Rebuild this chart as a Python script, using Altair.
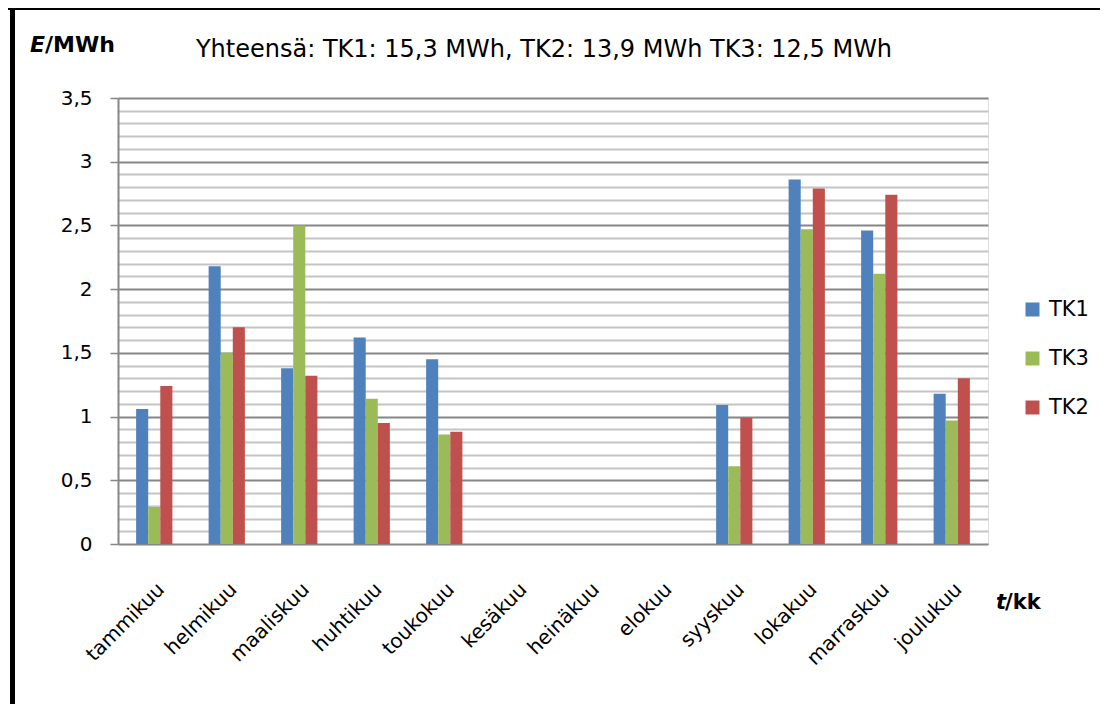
import altair as alt
import pandas as pd

months = ["tammikuu", "helmikuu", "maaliskuu", "huhtikuu", "toukokuu", "kesäkuu",
          "heinäkuu", "elokuu", "syyskuu", "lokakuu", "marraskuu", "joulukuu"]
series_order = ["TK1", "TK3", "TK2"]
tk1 = [1.06, 2.18, 1.38, 1.62, 1.45, 0, 0, 0, 1.09, 2.86, 2.46, 1.18]
tk3 = [0.29, 1.50, 2.50, 1.14, 0.86, 0, 0, 0, 0.61, 2.47, 2.12, 0.97]
tk2 = [1.24, 1.70, 1.32, 0.95, 0.88, 0, 0, 0, 0.99, 2.79, 2.74, 1.30]
colors = ["#4F81BD", "#9BBB59", "#C0504D"]
title_text = "Yhteensä: TK1: 15,3 MWh, TK2: 13,9 MWh TK3: 12,5 MWh"
grid_values = [round(i * 0.1, 1) for i in range(36)]

rows = []
for name, vals in zip(["TK1", "TK3", "TK2"], [tk1, tk3, tk2]):
    for m, v in zip(months, vals):
        rows.append({"month": m, "series": name, "value": v})
df = pd.DataFrame(rows)

FONT = "DejaVu Sans"
W, H = 870, 446

major = "round(datum.value*10) % 5 == 0"

bars = alt.Chart(df).mark_bar().encode(
    x=alt.X("month:N", sort=months, title=None,
            scale=alt.Scale(paddingInner=0.5, paddingOuter=0.25),
            axis=alt.Axis(labelAngle=-45, labelFontSize=20, labelFont=FONT,
                          labelColor="black", ticks=False, domain=False,
                          labelBaseline="top", labelAlign="right",
                          labelPadding=35)),
    xOffset=alt.XOffset("series:N", sort=series_order),
    y=alt.Y("value:Q", title=None,
            scale=alt.Scale(domain=[0, 3.5], nice=False),
            axis=alt.Axis(values=grid_values,
                          labelExpr=f"{major} ? replace(toString(datum.value), '.', ',') : ''",
                          labelFontSize=20, labelFont=FONT, labelColor="black",
                          labelPadding=18,
                          tickSize=8, tickColor="#868686", tickWidth=1.5,
                          tickOpacity={"condition": {"test": major, "value": 1}, "value": 0},
                          domainColor="#868686", domainWidth=2,
                          grid=True,
                          gridColor={"condition": {"test": major, "value": "#868686"}, "value": "#c4c4c4"},
                          gridWidth=1.8)),
    color=alt.Color("series:N", sort=series_order,
                    scale=alt.Scale(domain=series_order, range=colors),
                    legend=alt.Legend(title=None, orient="none", legendX=904, legendY=201,
                                      symbolType="square", symbolSize=196,
                                      symbolStrokeWidth=0,
                                      labelFontSize=21, labelFont=FONT, labelColor="black",
                                      rowPadding=27, labelOffset=6)),
)

one = pd.DataFrame({"k": [0]})

def txt(text, x, y, size, weight="normal", style="normal", align="left"):
    return alt.Chart(one).mark_text(
        text=text, font=FONT, fontSize=size, fontWeight=weight, fontStyle=style,
        align=align, baseline="alphabetic", color="black"
    ).encode(x=alt.value(x), y=alt.value(y))

title = txt(title_text, 426, -41, 24, align="center")
e1 = txt("E", -88, -46, 22, weight="bold", style="italic")
e2 = txt("/MWh", -73, -46, 22, weight="bold")
t1 = txt("t", 878, 511, 21, weight="bold", style="italic")
t2 = txt("/kk", 887, 511, 21, weight="bold")

top_border = alt.Chart(one).mark_rule(color="black", strokeWidth=3).encode(
    x=alt.value(-110), x2=alt.value(982), y=alt.value(-89.5))
left_border = alt.Chart(one).mark_rule(color="black", strokeWidth=5).encode(
    x=alt.value(-105.5), y=alt.value(-91), y2=alt.value(610))

chart = alt.layer(bars, title, e1, e2, t1, t2, top_border, left_border).properties(
    width=W, height=H,
    autosize=alt.AutoSizeParams(type="none"),
    padding={"left": 110, "top": 90, "right": 112, "bottom": 160},
).configure_view(stroke=None).configure(background="white")

chart.save("out.html", embed_options={"renderer": "svg", "actions": False})
